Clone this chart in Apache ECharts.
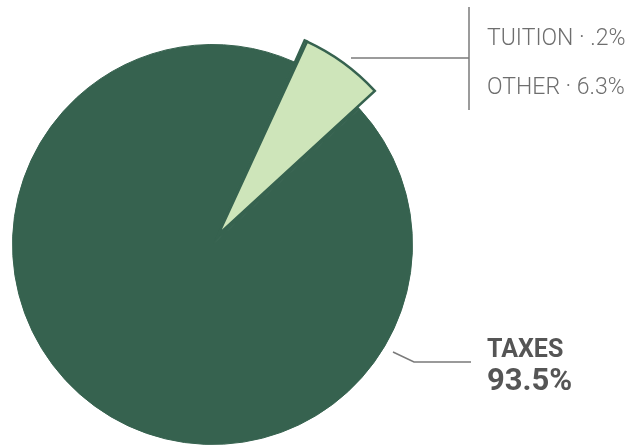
<!DOCTYPE html>
<html>
<head>
<meta charset="utf-8">
<script src="https://cdn.jsdelivr.net/npm/echarts@6/dist/echarts.min.js"></script>
<style>
html,body{margin:0;padding:0;background:#fff;}
#c{width:641px;height:446px;}
</style>
</head>
<body>
<div id="c"></div>
<script>
const categories = ['TUITION', 'OTHER', 'TAXES'];
const values = [0.2, 6.3, 93.5];
const valueLabels = ['.2%', '6.3%', '93.5%'];

const DARK = '#36624F';
const LIGHT = '#CEE5BA';
const GREY = '#6e6e6e';

const chart = echarts.init(document.getElementById('c'));

const baseData = categories.map((n, i) => ({
  name: n, value: values[i],
  itemStyle: { color: DARK, borderColor: DARK, borderWidth: 1 },
  label: { show: n === 'TAXES' },
  labelLine: { show: n === 'TAXES' }
}));

const wedgeData = categories.map((n, i) => ({
  name: n, value: values[i],
  itemStyle: n === 'TAXES'
    ? { color: 'transparent', borderWidth: 0 }
    : { color: LIGHT, borderColor: DARK, borderWidth: 2.5, borderJoin: 'miter' },
  label: { show: n !== 'TAXES' },
  labelLine: { show: n === 'OTHER' }
}));

const labelPos = {
  TUITION: { x: 487, y: 39 },
  OTHER: { x: 487, y: 88 },
  TAXES: { x: 487, y: 368 }
};

chart.setOption({
  animation: false,
  backgroundColor: '#fff',
  graphic: [{
    type: 'line',
    shape: { x1: 469, y1: 7, x2: 469, y2: 110 },
    style: { stroke: '#7a7a7a', lineWidth: 1.5 }
  }],
  series: [
    {
      type: 'pie',
      center: [212.5, 244.5],
      radius: 200,
      startAngle: 66,
      clockwise: true,
      silent: true,
      data: baseData,
      label: {
        position: 'outside',
        overflow: 'none',
        width: 200,
        formatter: p => '{a|' + p.name + '}\n{b|' + valueLabels[p.dataIndex] + '}',
        rich: {
          a: { fontFamily: 'Roboto', fontWeight: 'bold', fontSize: 25, lineHeight: 29, color: '#555555' },
          b: { fontFamily: 'Roboto', fontWeight: 'bold', fontSize: 31, lineHeight: 35, color: '#555555' }
        },
        align: 'left'
      },
      labelLine: { lineStyle: { color: '#7a7a7a', width: 1.5 } },
      labelLayout: p => {
        const pos = labelPos[categories[p.dataIndex]];
        return {
          x: pos.x, y: pos.y, align: 'left', verticalAlign: 'middle',
          labelLinePoints: [[393, 352], [414, 362], [471, 362]]
        };
      }
    },
    {
      type: 'pie',
      center: [218, 235],
      radius: 213,
      startAngle: 66,
      clockwise: true,
      silent: true,
      data: wedgeData,
      label: {
        position: 'outside',
        overflow: 'none',
        width: 200,
        formatter: p => p.name + ' \u00B7 ' + valueLabels[p.dataIndex],
        fontFamily: 'Roboto',
        fontWeight: 300,
        fontSize: 23,
        color: GREY
      },
      labelLine: { lineStyle: { color: '#7a7a7a', width: 1.5 } },
      labelLayout: p => {
        const pos = labelPos[categories[p.dataIndex]];
        return {
          x: pos.x, y: pos.y, align: 'left', verticalAlign: 'middle',
          labelLinePoints: [[351, 58], [410, 58], [469, 58]]
        };
      }
    }
  ]
});
</script>
</body>
</html>
